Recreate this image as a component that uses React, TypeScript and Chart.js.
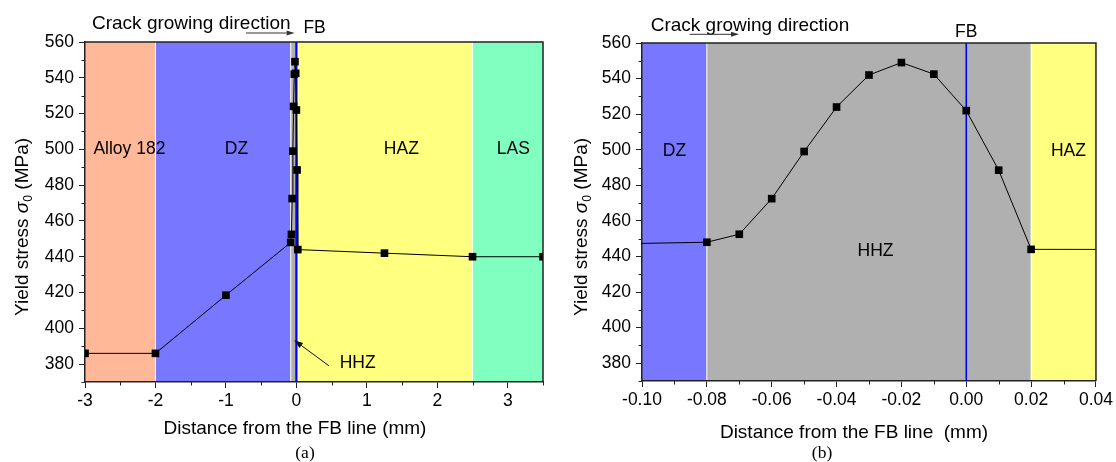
import { useEffect, useRef } from "react";
import { Chart, registerables } from "chart.js";

Chart.register(...registerables);

// ---------------- data ----------------
const DISTANCE_MM = [-3, -2, -1, -0.08, -0.07, -0.06, -0.05, -0.04, -0.03, -0.02, -0.01, 0, 0.01, 0.02, 1.25, 2.5, 3.5];
const YIELD_STRESS_MPA = [386, 386, 418.5, 448, 452.5, 472.5, 499, 524, 542, 549, 542.5, 522, 488.5, 444, 442, 440, 440];

const Y_TICKS = [380, 400, 420, 440, 460, 480, 500, 520, 540, 560];
const Y_MINOR_TICKS = [370, 390, 410, 430, 450, 470, 490, 510, 530, 550];

const A_X_TICKS = [-3, -2, -1, 0, 1, 2, 3];
const A_X_MINOR_TICKS = [-2.5, -1.5, -0.5, 0.5, 1.5, 2.5, 3.5];
const B_X_TICKS = [-0.1, -0.08, -0.06, -0.04, -0.02, 0, 0.02, 0.04];
const B_X_MINOR_TICKS = [-0.09, -0.07, -0.05, -0.03, -0.01, 0.01, 0.03];

const A_ZONE_EDGES = [-3, -2, -0.08, 0.02, 2.5, 3.5];
const A_ZONE_COLORS = ["#FFB898", "#7777FF", "#B0B0B0", "#FFFF80", "#80FFC0"];
const A_ZONE_NAMES = ["Alloy 182", "DZ", "HAZ", "LAS"];
const A_ZONE_NAME_X = [-2.37, -0.85, 1.49, 3.08];
const A_ZONE_NAME_Y = [500, 500, 500, 500];
const A_HHZ_CALLOUT = { text: "HHZ", x: 0.87, y: 380.7 };
const A_HHZ_ARROW_FROM = [0.464, 379];
const A_HHZ_ARROW_TO = [-0.033, 393.4];

const B_ZONE_EDGES = [-0.1, -0.08, 0.02, 0.04];
const B_ZONE_COLORS = ["#7777FF", "#B0B0B0", "#FFFF80"];
const B_ZONE_NAMES = ["DZ", "HHZ", "HAZ"];
const B_ZONE_NAME_X = [-0.09, -0.028, 0.0315];
const B_ZONE_NAME_Y = [499, 442.7, 499];

const FB_POSITION = 0;

// ---------------- styling helpers ----------------
const SANS = '"Liberation Sans", Arial, sans-serif';
const SERIF = '"Liberation Serif", "Times New Roman", serif';
const AXIS_COLOR = "#222";
const TITLE_SIZE = 19;
const TICK_SIZE = 17.5;
const LABEL_SIZE = 17.5;

function drawText(ctx: CanvasRenderingContext2D, s: string, x: number, y: number, font: string, align: CanvasTextAlign = "left", baseline: CanvasTextBaseline = "alphabetic") {
  ctx.save();
  ctx.font = font;
  ctx.fillStyle = "#000";
  ctx.textAlign = align;
  ctx.textBaseline = baseline;
  ctx.fillText(s, x, y);
  ctx.restore();
}

function drawArrow(ctx: CanvasRenderingContext2D, x0: number, y0: number, x1: number, y1: number, headLen: number, headHalf: number, color: string, lw: number) {
  const ang = Math.atan2(y1 - y0, x1 - x0);
  const c = Math.cos(ang), s = Math.sin(ang);
  const bx = x1 - headLen * c, by = y1 - headLen * s;
  ctx.save();
  ctx.strokeStyle = color;
  ctx.lineWidth = lw;
  ctx.beginPath();
  ctx.moveTo(x0, y0);
  ctx.lineTo(bx, by);
  ctx.stroke();
  ctx.fillStyle = color;
  ctx.beginPath();
  ctx.moveTo(x1, y1);
  ctx.lineTo(bx + headHalf * s, by - headHalf * c);
  ctx.lineTo(bx - headHalf * s, by + headHalf * c);
  ctx.closePath();
  ctx.fill();
  ctx.restore();
}

function drawYTitle(ctx: CanvasRenderingContext2D, baseX: number, centerY: number) {
  const size = TITLE_SIZE;
  const parts: [string, string, number][] = [
    ["Yield stress ", `${size}px ${SANS}`, 0],
    ["\u03C3", `italic ${size}px ${SANS}`, 0],
    ["0", `${(size * 0.65).toFixed(1)}px ${SANS}`, 4],
    [" (MPa)", `${size}px ${SANS}`, 0],
  ];
  ctx.save();
  let total = 0;
  for (const [t, f] of parts) {
    ctx.font = f;
    total += ctx.measureText(t).width;
  }
  ctx.translate(baseX, centerY);
  ctx.rotate(-Math.PI / 2);
  ctx.fillStyle = "#000";
  ctx.textBaseline = "alphabetic";
  ctx.textAlign = "left";
  let cx = -total / 2;
  for (const [t, f, dy] of parts) {
    ctx.font = f;
    ctx.fillText(t, cx, dy);
    cx += ctx.measureText(t).width;
  }
  ctx.restore();
}

type Panel = {
  width: number;
  yAxisWidth: number;
  xAxisHeight: number;
  padTop: number;
  padRight: number;
  xMin: number;
  xMax: number;
  xTicks: number[];
  xMinor: number[];
  fmtX: (v: number) => string;
  edges: number[];
  colors: string[];
  names: string[];
  nameX: number[];
  nameY: number[];
  fbWidth: number;
  extras: (chart: any, ctx: CanvasRenderingContext2D) => void;
};

function makePlugin(p: Panel) {
  return {
    id: "panelDecor",
    beforeDraw(chart: any) {
      const { ctx, chartArea: a } = chart;
      const x = chart.scales.x;
      ctx.save();
      ctx.fillStyle = "#fff";
      ctx.fillRect(0, 0, chart.width, chart.height);
      ctx.beginPath();
      ctx.rect(a.left, a.top, a.right - a.left, a.bottom - a.top);
      ctx.clip();
      for (let i = 0; i < p.colors.length; i++) {
        const x0 = x.getPixelForValue(p.edges[i]);
        const x1 = x.getPixelForValue(p.edges[i + 1]);
        ctx.fillStyle = p.colors[i];
        ctx.fillRect(x0, a.top, x1 - x0, a.bottom - a.top);
      }
      ctx.strokeStyle = "#fff";
      ctx.lineWidth = 1;
      for (let i = 1; i < p.edges.length - 1; i++) {
        const px = x.getPixelForValue(p.edges[i]);
        ctx.beginPath();
        ctx.moveTo(px, a.top);
        ctx.lineTo(px, a.bottom);
        ctx.stroke();
      }
      ctx.restore();
    },
    beforeDatasetsDraw(chart: any) {
      const { ctx, chartArea: a } = chart;
      const x = chart.scales.x, y = chart.scales.y;
      ctx.save();
      const fb = x.getPixelForValue(FB_POSITION);
      ctx.strokeStyle = "#0000FF";
      ctx.lineWidth = p.fbWidth;
      ctx.beginPath();
      ctx.moveTo(fb, a.top);
      ctx.lineTo(fb, a.bottom);
      ctx.stroke();
      for (let i = 0; i < p.names.length; i++) {
        drawText(ctx, p.names[i], x.getPixelForValue(p.nameX[i]), y.getPixelForValue(p.nameY[i]), `${LABEL_SIZE}px ${SANS}`, "center", "middle");
      }
      ctx.restore();
    },
    afterDraw(chart: any) {
      const { ctx, chartArea: a } = chart;
      const x = chart.scales.x, y = chart.scales.y;
      ctx.save();
      ctx.strokeStyle = AXIS_COLOR;
      ctx.lineWidth = 1.5;
      ctx.beginPath();
      ctx.moveTo(a.left, a.top);
      ctx.lineTo(a.right, a.top);
      ctx.lineTo(a.right, a.bottom);
      ctx.stroke();
      ctx.lineWidth = 1;
      for (const v of p.xMinor) {
        const px = Math.round(x.getPixelForValue(v)) + 0.5;
        ctx.beginPath();
        ctx.moveTo(px, a.bottom);
        ctx.lineTo(px, a.bottom + 3.5);
        ctx.stroke();
      }
      for (const v of Y_MINOR_TICKS) {
        const py = Math.round(y.getPixelForValue(v)) + 0.5;
        ctx.beginPath();
        ctx.moveTo(a.left - 3.5, py);
        ctx.lineTo(a.left, py);
        ctx.stroke();
      }
      ctx.restore();
      p.extras(chart, ctx);
    },
  };
}

function makeChart(canvas: HTMLCanvasElement, p: Panel) {
  const points = DISTANCE_MM.map((d, i) => ({ x: d, y: YIELD_STRESS_MPA[i] }));
  return new Chart(canvas, {
    type: "scatter",
    data: {
      datasets: [
        {
          data: points,
          showLine: true,
          borderColor: "#000",
          borderWidth: 1,
          pointStyle: "rect",
          pointRadius: 5.4,
          pointBackgroundColor: "#000",
          pointBorderColor: "#000",
          pointBorderWidth: 0,
          tension: 0,
          clip: 0,
        } as any,
      ],
    },
    options: {
      responsive: false,
      animation: false,
      events: [],
      layout: { padding: { left: 0, top: p.padTop, right: p.padRight, bottom: 0 } },
      plugins: { legend: { display: false }, tooltip: { enabled: false }, title: { display: false } },
      scales: {
        x: {
          type: "linear",
          min: p.xMin,
          max: p.xMax,
          afterBuildTicks: (s: any) => {
            s.ticks = p.xTicks.map((v) => ({ value: v }));
          },
          afterFit: (s: any) => {
            s.height = p.xAxisHeight;
          },
          ticks: {
            autoSkip: false,
            maxRotation: 0,
            padding: 3,
            color: "#000",
            font: { family: SANS, size: TICK_SIZE },
            callback: (v: any) => p.fmtX(Number(v)),
          },
          grid: { drawOnChartArea: false, drawTicks: true, tickLength: 6, color: AXIS_COLOR, lineWidth: 1 },
          border: { display: true, color: AXIS_COLOR, width: 1.5 },
        },
        y: {
          type: "linear",
          min: 370,
          max: 560,
          afterBuildTicks: (s: any) => {
            s.ticks = Y_TICKS.map((v) => ({ value: v }));
          },
          afterFit: (s: any) => {
            s.width = p.yAxisWidth;
          },
          ticks: {
            autoSkip: false,
            padding: 5,
            color: "#000",
            font: { family: SANS, size: TICK_SIZE },
            callback: (v: any) => String(v),
          },
          grid: { drawOnChartArea: false, drawTicks: true, tickLength: 6, color: AXIS_COLOR, lineWidth: 1 },
          border: { display: true, color: AXIS_COLOR, width: 1.5 },
        },
      },
    } as any,
    plugins: [makePlugin(p)],
  });
}

const panelA: Panel = {
  width: 560,
  yAxisWidth: 85,
  xAxisHeight: 80,
  padTop: 42,
  padRight: 17,
  xMin: -3,
  xMax: 3.5,
  xTicks: A_X_TICKS,
  xMinor: A_X_MINOR_TICKS,
  fmtX: (v) => String(v),
  edges: A_ZONE_EDGES,
  colors: A_ZONE_COLORS,
  names: A_ZONE_NAMES,
  nameX: A_ZONE_NAME_X,
  nameY: A_ZONE_NAME_Y,
  fbWidth: 2.2,
  extras: (chart, ctx) => {
    const x = chart.scales.x, y = chart.scales.y;
    drawText(ctx, "Crack growing direction", 92, 29, `${TITLE_SIZE}px ${SANS}`);
    drawArrow(ctx, 246, 33, 294.6, 33, 8, 2.5, "#333", 1);
    drawText(ctx, "FB", x.getPixelForValue(FB_POSITION) + 7, 33, `${LABEL_SIZE}px ${SANS}`);
    drawText(ctx, A_HHZ_CALLOUT.text, x.getPixelForValue(A_HHZ_CALLOUT.x), y.getPixelForValue(A_HHZ_CALLOUT.y), `${LABEL_SIZE}px ${SANS}`, "center", "middle");
    drawArrow(
      ctx,
      x.getPixelForValue(A_HHZ_ARROW_FROM[0]), y.getPixelForValue(A_HHZ_ARROW_FROM[1]),
      x.getPixelForValue(A_HHZ_ARROW_TO[0]), y.getPixelForValue(A_HHZ_ARROW_TO[1]),
      9, 3, "#111", 1
    );
    drawText(ctx, "Distance from the FB line (mm)", 295, 434, `${TITLE_SIZE}px ${SANS}`, "center");
    drawText(ctx, "(a)", 305, 458, `17.5px ${SERIF}`, "center");
    drawYTitle(ctx, 28, 227);
  },
};

const panelB: Panel = {
  width: 556,
  yAxisWidth: 82,
  xAxisHeight: 81,
  padTop: 43,
  padRight: 17,
  xMin: -0.1,
  xMax: 0.04,
  xTicks: B_X_TICKS,
  xMinor: B_X_MINOR_TICKS,
  fmtX: (v) => (Math.abs(v) < 1e-9 ? "0.00" : v.toFixed(2)),
  edges: B_ZONE_EDGES,
  colors: B_ZONE_COLORS,
  names: B_ZONE_NAMES,
  nameX: B_ZONE_NAME_X,
  nameY: B_ZONE_NAME_Y,
  fbWidth: 1.6,
  extras: (chart, ctx) => {
    const x = chart.scales.x;
    drawText(ctx, "Crack growing direction", 90.7, 31, `${TITLE_SIZE}px ${SANS}`);
    drawArrow(ctx, 129.7, 34.3, 179, 34.3, 8, 2.5, "#333", 1);
    drawText(ctx, "FB", x.getPixelForValue(FB_POSITION), 37.3, `${LABEL_SIZE}px ${SANS}`, "center");
    drawText(ctx, "Distance from the FB line  (mm)", 294, 437.7, `${TITLE_SIZE}px ${SANS}`, "center");
    drawText(ctx, "(b)", 262, 458, `17.5px ${SERIF}`, "center");
    drawYTitle(ctx, 27, 227);
  },
};

export default function App() {
  const refA = useRef<HTMLCanvasElement>(null);
  const refB = useRef<HTMLCanvasElement>(null);
  useEffect(() => {
    const a = makeChart(refA.current as HTMLCanvasElement, panelA);
    const b = makeChart(refB.current as HTMLCanvasElement, panelB);
    return () => {
      a.destroy();
      b.destroy();
    };
  }, []);
  return (
    <div style={{ position: "absolute", left: 0, top: 0, width: 1116, height: 462, background: "#fff" }}>
      <canvas ref={refA} width={560} height={462} style={{ position: "absolute", left: 0, top: 0, width: 560, height: 462 }} />
      <canvas ref={refB} width={556} height={462} style={{ position: "absolute", left: 560, top: 0, width: 556, height: 462 }} />
    </div>
  );
}
